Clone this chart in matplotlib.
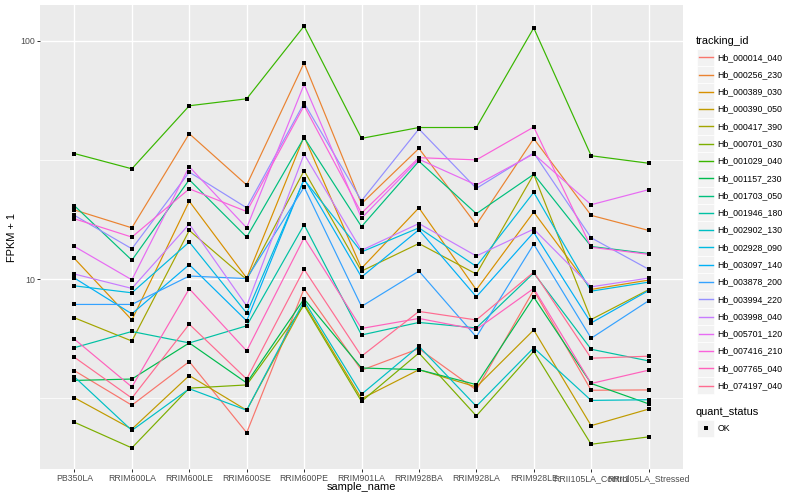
import numpy as np
import matplotlib
matplotlib.use("Agg")
import matplotlib.pyplot as plt

# ---------------- data (FPKM + 1 per sample) ----------------
samples = ["PB350LA", "RRIM600LA", "RRIM600LE", "RRIM600SE", "RRIM600PE",
           "RRIM901LA", "RRIM928BA", "RRIM928LA", "RRIM928LE",
           "RRII105LA_Control", "RRII105LA_Stressed"]

Hb_000014_040 = [4.13, 2.96, 4.51, 2.27, 9.11, 4.15, 5.11, 3.43, 8.99, 3.42, 3.43]
Hb_000256_230 = [19.5, 16.4, 40.7, 24.8, 80.6, 20.7, 35.3, 16.9, 38.8, 18.5, 16.0]
Hb_000389_030 = [12.2, 6.74, 21.2, 10.1, 39.6, 11.1, 19.9, 9.02, 19.1, 9.05, 9.9]
Hb_000390_050 = [3.18, 2.35, 3.94, 2.82, 7.90, 3.15, 4.17, 3.53, 6.12, 2.43, 2.85]
Hb_000417_390 = [6.88, 5.50, 16.0, 9.95, 28.5, 10.8, 14.1, 10.5, 27.5, 6.77, 9.02]
Hb_000701_030 = [2.51, 1.96, 3.49, 3.60, 7.77, 3.07, 4.90, 2.67, 4.98, 2.03, 2.18]
Hb_001029_040 = [33.6, 29.0, 53.3, 57.0, 115.0, 38.9, 43.2, 43.2, 113.0, 32.9, 30.6]
Hb_001157_230 = [3.76, 3.81, 5.40, 3.67, 8.26, 4.24, 4.17, 3.61, 8.40, 3.65, 3.00]
Hb_001703_050 = [20.3, 12.0, 26.1, 15.0, 39.2, 16.6, 31.2, 18.8, 27.5, 13.7, 12.8]
Hb_001946_180 = [5.16, 6.03, 5.40, 6.37, 16.9, 5.83, 6.58, 6.24, 10.6, 5.08, 4.54]
Hb_002902_130 = [3.89, 2.32, 3.47, 2.82, 8.11, 3.29, 5.23, 2.93, 5.15, 3.10, 3.12]
Hb_002928_090 = [9.37, 8.76, 14.3, 7.20, 26.1, 13.0, 16.4, 11.3, 23.1, 8.90, 9.71]
Hb_003097_140 = [10.1, 7.15, 11.5, 6.68, 26.3, 10.2, 16.1, 8.43, 15.7, 6.55, 8.95]
Hb_003878_200 = [7.83, 7.83, 10.3, 10.05, 24.3, 7.68, 10.8, 5.72, 14.0, 5.65, 8.11]
Hb_003994_220 = [18.5, 13.4, 28.1, 19.9, 54.7, 21.3, 42.6, 24.0, 33.8, 14.9, 11.0]
Hb_003998_040 = [10.5, 9.14, 17.0, 7.72, 33.4, 13.2, 17.1, 12.5, 16.2, 9.28, 10.1]
Hb_005701_120 = [13.7, 9.93, 29.6, 16.4, 65.5, 18.0, 31.8, 24.8, 33.5, 20.5, 23.7]
Hb_007416_210 = [17.9, 15.0, 23.9, 19.2, 53.3, 18.9, 32.3, 31.6, 43.4, 13.6, 12.7]
Hb_007765_040 = [5.60, 3.53, 9.11, 5.00, 14.9, 6.21, 6.84, 6.15, 9.14, 3.65, 4.15]
Hb_074197_040 = [4.70, 3.17, 6.47, 3.81, 11.0, 4.75, 7.32, 6.74, 10.7, 4.66, 4.75]

tracking_ids = ["Hb_000014_040", "Hb_000256_230", "Hb_000389_030", "Hb_000390_050",
                "Hb_000417_390", "Hb_000701_030", "Hb_001029_040", "Hb_001157_230",
                "Hb_001703_050", "Hb_001946_180", "Hb_002902_130", "Hb_002928_090",
                "Hb_003097_140", "Hb_003878_200", "Hb_003994_220", "Hb_003998_040",
                "Hb_005701_120", "Hb_007416_210", "Hb_007765_040", "Hb_074197_040"]

series = {
    "Hb_000014_040": Hb_000014_040, "Hb_000256_230": Hb_000256_230,
    "Hb_000389_030": Hb_000389_030, "Hb_000390_050": Hb_000390_050,
    "Hb_000417_390": Hb_000417_390, "Hb_000701_030": Hb_000701_030,
    "Hb_001029_040": Hb_001029_040, "Hb_001157_230": Hb_001157_230,
    "Hb_001703_050": Hb_001703_050, "Hb_001946_180": Hb_001946_180,
    "Hb_002902_130": Hb_002902_130, "Hb_002928_090": Hb_002928_090,
    "Hb_003097_140": Hb_003097_140, "Hb_003878_200": Hb_003878_200,
    "Hb_003994_220": Hb_003994_220, "Hb_003998_040": Hb_003998_040,
    "Hb_005701_120": Hb_005701_120, "Hb_007416_210": Hb_007416_210,
    "Hb_007765_040": Hb_007765_040, "Hb_074197_040": Hb_074197_040,
}

colors = ["#F8766D", "#EA8331", "#D89000", "#C09B00", "#A3A500", "#7CAE00",
          "#39B600", "#00BB4E", "#00BF7D", "#00C1A3", "#00BFC4", "#00BAE0",
          "#00B0F6", "#35A2FF", "#9590FF", "#C77CFF", "#E76BF3", "#FA62DB",
          "#FF62BC", "#FF6C91"]

status_levels = ["OK"]

# ---------------- styling ----------------
plt.rcParams['font.family'] = ['Liberation Sans', 'DejaVu Sans']
W, H, DPI = 800, 500, 100
PX = 72.0 / DPI          # points per pixel
fig = plt.figure(figsize=(W / DPI, H / DPI), dpi=DPI)

L, R, T, B = 40, 683, 5, 469
ax = fig.add_axes([L / W, 1 - B / H, (R - L) / W, (B - T) / H])
ax.set_facecolor("#EBEBEB")
for s in ax.spines.values():
    s.set_visible(False)

x = np.arange(len(samples))
for tid, col in zip(tracking_ids, colors):
    ax.plot(x, series[tid], color=col, lw=1.15 * PX * 1.0 / PX * 0.75, zorder=3,
            solid_capstyle='butt')
for tid in tracking_ids:
    ax.plot(x, series[tid], ls='none', marker='s', ms=3.2 * PX, color='black',
            mec='black', mew=0, zorder=4)

ax.set_yscale('log')
allv = np.concatenate([np.asarray(v) for v in series.values()])
lo, hi = np.log10(allv.min()), np.log10(allv.max())
pad = 0.05 * (hi - lo)
ax.set_ylim(10 ** (lo - pad), 10 ** (hi + pad))
ax.set_xlim(-0.6, len(samples) - 1 + 0.6)

ax.set_yticks([10, 100])
ax.set_yticklabels(["10", "100"])
ax.yaxis.set_minor_locator(matplotlib.ticker.FixedLocator([10 ** 0.5, 10 ** 1.5]))
ax.yaxis.set_minor_formatter(matplotlib.ticker.NullFormatter())
ax.set_xticks(x)
ax.set_xticklabels(samples)

ax.grid(True, which='major', color='white', lw=1.4 * PX)
ax.grid(True, which='minor', axis='y', color='white', lw=0.7 * PX)
ax.set_axisbelow(True)
ax.tick_params(which='major', length=2.75 * PX * 1.0 / PX * 0.75 * 1.0, width=1.0 * PX,
               color='#333333', labelcolor='#4D4D4D', labelsize=8.8 * PX, pad=2.2 * PX)
ax.tick_params(which='minor', length=0)

fig.text((L + R) / 2 / W, 1 - 487 / H, "sample_name", ha='center', va='center',
         fontsize=11 * PX, color='black')
fig.text(12 / W, 1 - ((T + B) / 2) / H, "FPKM + 1", ha='center', va='center',
         rotation=90, fontsize=11 * PX, color='black')

# ---------------- legend (pixel coordinate overlay) ----------------
lg = fig.add_axes([0, 0, 1, 1])
lg.set_xlim(0, W)
lg.set_ylim(H, 0)
lg.axis('off')
lg.patch.set_visible(False)

kx, ks, step = 697.0, 17.28, 17.28
lg.text(kx - 1, 40.7, "tracking_id", ha='left', va='center', fontsize=11 * PX)
y0 = 57.3
for i, (tid, col) in enumerate(zip(tracking_ids, colors)):
    yc = y0 + i * step
    lg.add_patch(plt.Rectangle((kx, yc - ks / 2), ks, ks, facecolor='#F2F2F2',
                               edgecolor='white', lw=0.7 * PX))
    lg.plot([kx + 1.7, kx + ks - 1.7], [yc, yc], color=col, lw=1.4 * PX)
    lg.text(kx + ks + 3, yc, tid, ha='left', va='center', fontsize=8.8 * PX)

yq = y0 + len(tracking_ids) * step + 9
lg.text(kx - 1, yq, "quant_status", ha='left', va='center', fontsize=11 * PX)
for j, st in enumerate(status_levels):
    yc = yq + 16.5 + j * step
    lg.add_patch(plt.Rectangle((kx, yc - ks / 2), ks, ks, facecolor='#F2F2F2',
                               edgecolor='white', lw=0.7 * PX))
    lg.plot([kx + ks / 2], [yc], marker='s', ms=3.2 * PX, color='black', mew=0)
    lg.text(kx + ks + 3, yc, st, ha='left', va='center', fontsize=8.8 * PX)

fig.savefig("out.png", dpi=DPI)
